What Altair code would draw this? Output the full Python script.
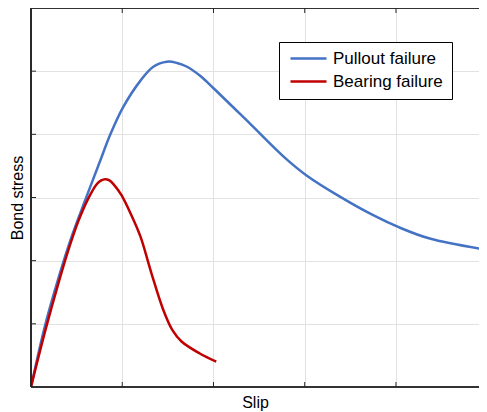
import altair as alt
import pandas as pd

# ---- data ----
series_names = ["Pullout failure", "Bearing failure"]
series_colors = ["#4472C4", "#C00000"]

pullout_slip = [0.0, 0.15, 0.30, 0.45, 0.60, 0.75, 0.87, 1.01, 1.20, 1.34, 1.49, 1.60,
                1.71, 1.85, 2.00, 2.40, 2.79, 3.02, 3.39, 3.75, 4.03, 4.37, 5.00]
pullout_stress = [0.0, 0.95, 1.72, 2.40, 2.98, 3.55, 4.00, 4.43, 4.85, 5.07, 5.15, 5.13,
                  5.07, 4.93, 4.73, 4.17, 3.62, 3.35, 3.01, 2.72, 2.53, 2.35, 2.17]

bearing_slip = [0.0, 0.154, 0.30, 0.41, 0.52, 0.63, 0.72, 0.77, 0.81, 0.86, 0.91, 0.99,
                1.10, 1.20, 1.32, 1.45, 1.55, 1.65, 1.85, 2.03]
bearing_stress = [0.0, 0.88, 1.64, 2.17, 2.63, 2.99, 3.21, 3.27, 3.29, 3.27, 3.20, 3.04,
                  2.72, 2.38, 1.80, 1.22, 0.90, 0.72, 0.53, 0.40]

x_ticks = [1, 2, 3, 4]
y_ticks = [1, 2, 3, 4, 5]
x_max = 4.91   # visible part of the slip axis (the reference is cut at the right edge)
y_max = 6

# ---- tables ----
rows = []
for i, (s, t) in enumerate(zip(pullout_slip, pullout_stress)):
    rows.append({"series": series_names[0], "slip": s, "stress": t, "order": i})
for i, (s, t) in enumerate(zip(bearing_slip, bearing_stress)):
    rows.append({"series": series_names[1], "slip": s, "stress": t, "order": i})
df = pd.DataFrame(rows)

xt = pd.DataFrame({"slip": x_ticks})
yt = pd.DataFrame({"stress": y_ticks})

W, H = 448, 379
FONT = "Liberation Sans"
GRID = "#e2e2e2"
AX = "#262626"

x_scale = alt.Scale(domain=[0, x_max], nice=False, zero=False)
y_scale = alt.Scale(domain=[0, y_max], nice=False, zero=False)

x_axis = alt.Axis(title="Slip", values=x_ticks, labels=False, ticks=False, domain=False,
                  grid=True, gridColor=GRID, gridWidth=1, titleFont=FONT, titleFontSize=16,
                  titleFontWeight="normal", titleColor="black", titlePadding=7)
y_axis = alt.Axis(title="Bond stress", values=y_ticks, labels=False, ticks=False, domain=False,
                  grid=True, gridColor=GRID, gridWidth=1, titleFont=FONT, titleFontSize=16,
                  titleFontWeight="normal", titleColor="black", titlePadding=6)

lines = alt.Chart(df).mark_line(strokeWidth=2.5, interpolate="catmull-rom", clip=True).encode(
    x=alt.X("slip:Q", scale=x_scale, axis=x_axis),
    y=alt.Y("stress:Q", scale=y_scale, axis=y_axis),
    color=alt.Color(
        "series:N",
        scale=alt.Scale(domain=series_names, range=series_colors),
        legend=alt.Legend(
            title=None, orient="none", legendX=248, legendY=34,
            symbolType="stroke", symbolSize=1296, symbolStrokeWidth=2.5,
            labelFont=FONT, labelFontSize=17, labelColor="black",
            strokeColor="black", fillColor="white", padding=9,
            symbolOffset=1, labelOffset=5, rowPadding=5, clipHeight=15,
            cornerRadius=0,
        ),
    ),
    order="order:Q",
)

tick_bottom = alt.Chart(xt).mark_rule(color=AX, strokeWidth=1).encode(
    x=alt.X("slip:Q", scale=x_scale, axis=x_axis), y=alt.value(H), y2=alt.value(H - 5))
tick_top = alt.Chart(xt).mark_rule(color=AX, strokeWidth=1).encode(
    x=alt.X("slip:Q", scale=x_scale, axis=x_axis), y=alt.value(0), y2=alt.value(5))
tick_left = alt.Chart(yt).mark_rule(color=AX, strokeWidth=1).encode(
    y=alt.Y("stress:Q", scale=y_scale, axis=y_axis), x=alt.value(0), x2=alt.value(5))

frame_left = alt.Chart(xt).mark_rule(color=AX, strokeWidth=1.2).encode(
    x=alt.value(0), y=alt.value(0), y2=alt.value(H))
frame_top = alt.Chart(xt).mark_rule(color=AX, strokeWidth=1.2).encode(
    y=alt.value(0), x=alt.value(0), x2=alt.value(W))
frame_bottom = alt.Chart(xt).mark_rule(color=AX, strokeWidth=1.2).encode(
    y=alt.value(H), x=alt.value(0), x2=alt.value(W))

chart = alt.layer(lines, tick_bottom, tick_top, tick_left,
                  frame_left, frame_top, frame_bottom).properties(
    width=W, height=H,
    autosize=alt.AutoSizeParams(type="none"),
    padding={"left": 23, "top": 0, "right": 0, "bottom": 25},
).configure_view(stroke=None).configure(background="white")

chart.save("out.html", embed_options={"renderer": "svg", "actions": False})
